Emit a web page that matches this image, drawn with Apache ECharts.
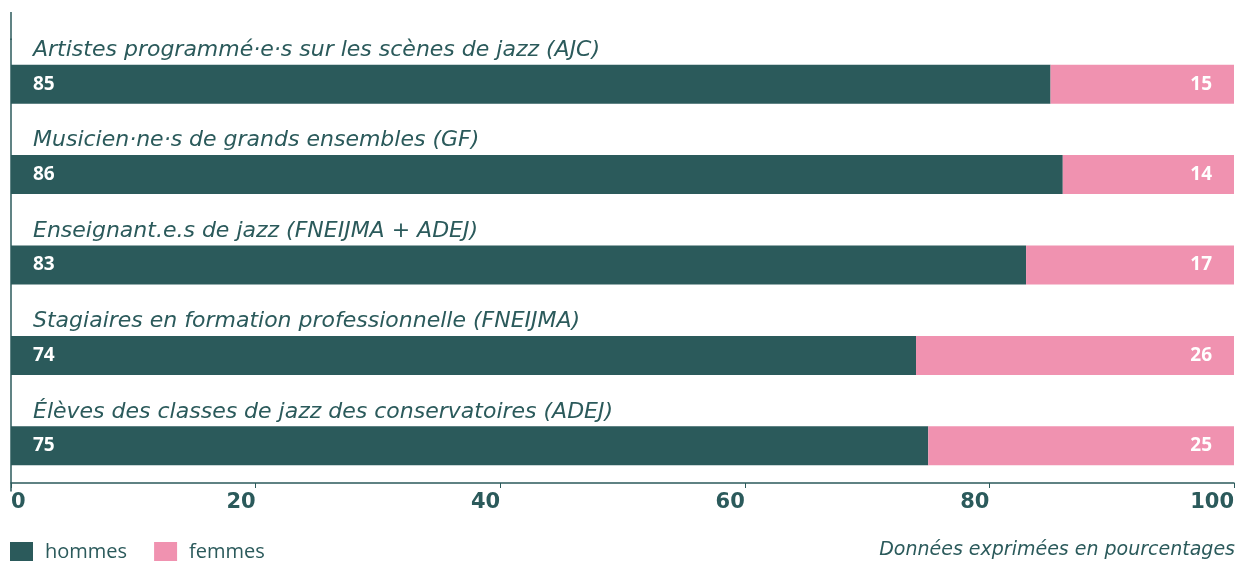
<!DOCTYPE html>
<html>
<head>
<meta charset="utf-8">
<script src="https://cdn.jsdelivr.net/npm/echarts@6/dist/echarts.min.js"></script>
<style>
  html, body { margin: 0; padding: 0; background: #fff; }
  #chart { width: 1237px; height: 561px; }
</style>
</head>
<body>
<div id="chart"></div>
<script>
// données
var categories = [
  'Artistes programmé·e·s sur les scènes de jazz (AJC)',
  'Musicien·ne·s de grands ensembles (GF)',
  'Enseignant.e.s de jazz (FNEIJMA + ADEJ)',
  'Stagiaires en formation professionnelle (FNEIJMA)',
  'Élèves des classes de jazz des conservatoires (ADEJ)'
];
var hommes = [85, 86, 83, 74, 75];
var femmes = [15, 14, 17, 26, 25];
var xTicks = [0, 20, 40, 60, 80, 100];

var teal = '#2b5a5b';
var pink = '#f092b0';
var txtFont = 'Open Sans';

(function () {
  var chart = echarts.init(document.getElementById('chart'));
  var option = {
    animation: false,
    grid: {
      left: 11,
      right: 2,
      top: 39,
      height: 452
    },
    legend: {
      left: 10,
      top: 542,
      padding: 0,
      itemWidth: 23,
      itemHeight: 20,
      itemGap: 27,
      icon: 'rect',
      textStyle: { color: teal, fontSize: 20, fontFamily: txtFont, padding: [0, 0, 0, 7] },
      data: ['hommes', 'femmes']
    },
    xAxis: {
      type: 'value',
      min: xTicks[0],
      max: xTicks[xTicks.length - 1],
      interval: 20,
      offset: -8,
      axisLine: { show: true, lineStyle: { color: teal, width: 1.5 } },
      axisTick: { show: true, length: 5, lineStyle: { color: teal } },
      splitLine: { show: false },
      axisLabel: {
        color: teal,
        fontFamily: 'DejaVu Sans',
        fontWeight: 'bold',
        fontSize: 21,
        margin: 9,
        align: 'right',
        alignMinLabel: 'left',
        alignMaxLabel: 'right'
      }
    },
    yAxis: {
      type: 'category',
      inverse: true,
      data: categories,
      axisLine: { show: true, lineStyle: { color: teal, width: 1.5 } },
      axisTick: { show: false },
      axisLabel: {
        inside: true,
        margin: 22,
        verticalAlign: 'bottom',
        padding: [0, 0, 23, 0],
        color: teal,
        fontFamily: 'DejaVu Sans',
        fontStyle: 'italic',
        fontSize: 22
      }
    },
    graphic: [
      {
        type: 'line',
        shape: { x1: 11, y1: 12, x2: 11, y2: 40 },
        style: { stroke: teal, lineWidth: 1.5 }
      },
      {
        type: 'text',
        right: 2,
        top: 541,
        style: {
          text: 'Données exprimées en pourcentages',
          fill: teal,
          font: 'italic 19px "DejaVu Sans"',
          align: 'right'
        }
      }
    ],
    series: [
      {
        name: 'hommes',
        type: 'bar',
        stack: 'total',
        barWidth: 39,
        itemStyle: { color: teal },
        label: {
          show: true,
          position: 'insideLeft',
          distance: 22,
          color: '#fff',
          fontFamily: txtFont,
          fontWeight: 'bold',
          fontSize: 19
        },
        data: hommes
      },
      {
        name: 'femmes',
        type: 'bar',
        stack: 'total',
        barWidth: 39,
        itemStyle: { color: pink },
        label: {
          show: true,
          position: 'insideRight',
          distance: 22,
          color: '#fff',
          fontFamily: txtFont,
          fontWeight: 'bold',
          fontSize: 19
        },
        data: femmes
      }
    ]
  };
  chart.setOption(option);
})();
</script>
</body>
</html>
